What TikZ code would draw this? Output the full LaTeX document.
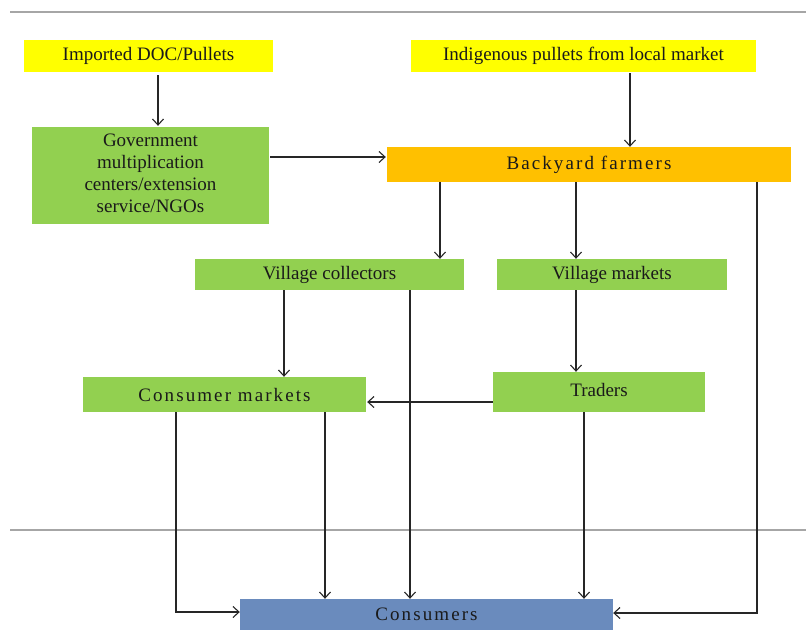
\documentclass[tikz,border=0pt]{standalone}
\usepackage{fontspec}
\setmainfont{Liberation Serif}
\newfontfamily\spaced[LetterSpace=11]{Liberation Serif}
\usetikzlibrary{arrows.meta}
\definecolor{ylw}{HTML}{FFFF00}
\definecolor{grn}{HTML}{92D050}
\definecolor{org}{HTML}{FFC000}
\definecolor{blu}{HTML}{6A8BBD}
\definecolor{gln}{HTML}{A6A6A6}
\definecolor{txt}{HTML}{1A1A1A}
\tikzset{
  box/.style={inner sep=0pt, text=txt, align=center, font=\fontsize{19}{22}\selectfont},
  arr/.style={draw=black!85, line width=1.1pt, -{Straight Barb[length=6pt,width=11pt]}},
  ln/.style={draw=black!85, line width=1.1pt},
  sep/.style={draw=gln, line width=2.5pt}
}
\begin{document}
\begin{tikzpicture}[x=1pt,y=-1pt]
\useasboundingbox (0,0) rectangle (806,630);
\coordinate (t1) at (10,12);
\coordinate (t2) at (806,12);
\coordinate (b1) at (10,530);
\coordinate (b2) at (806,530);
\draw[sep] (t1) -- (t2);
\draw[sep] (b1) -- (b2);

\node[box, fill=ylw, minimum width=249pt, minimum height=32pt] (imp) at (148.5,56) {Imported DOC/Pullets};
\node[box, fill=ylw, minimum width=345pt, minimum height=32pt] (ind) at (583.5,56) {Indigenous pullets from local market};
\node[box, fill=grn, minimum width=237pt, minimum height=97pt] (gov) at (150.5,175.5) {\raisebox{2pt}{\begin{tabular}{@{}c@{}}Government\\multiplication\\centers/extension\\service/NGOs\end{tabular}}};
\node[box, fill=org, minimum width=404pt, minimum height=35pt] (back) at (589,164.5) {\spaced Backyard farmers};
\node[box, fill=grn, minimum width=269pt, minimum height=31pt] (vc) at (329.5,274.5) {Village collectors};
\node[box, fill=grn, minimum width=230pt, minimum height=31pt] (vm) at (612,274.5) {Village markets};
\node[box, fill=grn, minimum width=283pt, minimum height=35pt] (cm) at (224.5,394.5) {\spaced Consumer markets};
\node[box, fill=grn, minimum width=212pt, minimum height=40pt] (tr) at (599,392) {\raisebox{5pt}{Traders}};
\node[box, fill=blu, minimum width=373pt, minimum height=31pt] (con) at (426.5,614.5) {\spaced Consumers};

\draw[arr, shorten <=3pt, shorten >=1pt] ([xshift=9.5pt]imp.south) -- ([xshift=7.5pt]gov.north);
\draw[arr, shorten <=1pt] ([xshift=46.5pt]ind.south) -- ([xshift=41pt]back.north);
\draw[arr, shorten <=1pt, shorten >=1pt] ([yshift=18.5pt]gov.east) -- ([yshift=7.5pt]back.west);
\draw[arr] ([xshift=-149pt]back.south) -- ([xshift=110.5pt]vc.north);
\draw[arr] ([xshift=-13pt]back.south) -- ([xshift=-36pt]vm.north);
\draw[arr] ([xshift=-45.5pt]vc.south) -- ([xshift=59.5pt]cm.north);
\draw[arr] ([xshift=80.5pt]vc.south) -- ([xshift=-16.5pt]con.north);
\draw[arr] ([xshift=-36pt]vm.south) -- ([xshift=-23pt]tr.north);
\draw[arr, shorten >=1pt] ([yshift=-10pt]tr.west) -- ([yshift=-7.5pt]cm.east);
\draw[arr] ([xshift=100.5pt]cm.south) -- ([xshift=-101.5pt]con.north);
\draw[arr] ([xshift=-48.5pt]cm.south) |- ([yshift=2.5pt]con.west);
\draw[arr] ([xshift=-15pt]tr.south) -- ([xshift=157.5pt]con.north);
\draw[arr] ([xshift=168pt]back.south) |- ([yshift=1.5pt]con.east);
\end{tikzpicture}
\end{document}
